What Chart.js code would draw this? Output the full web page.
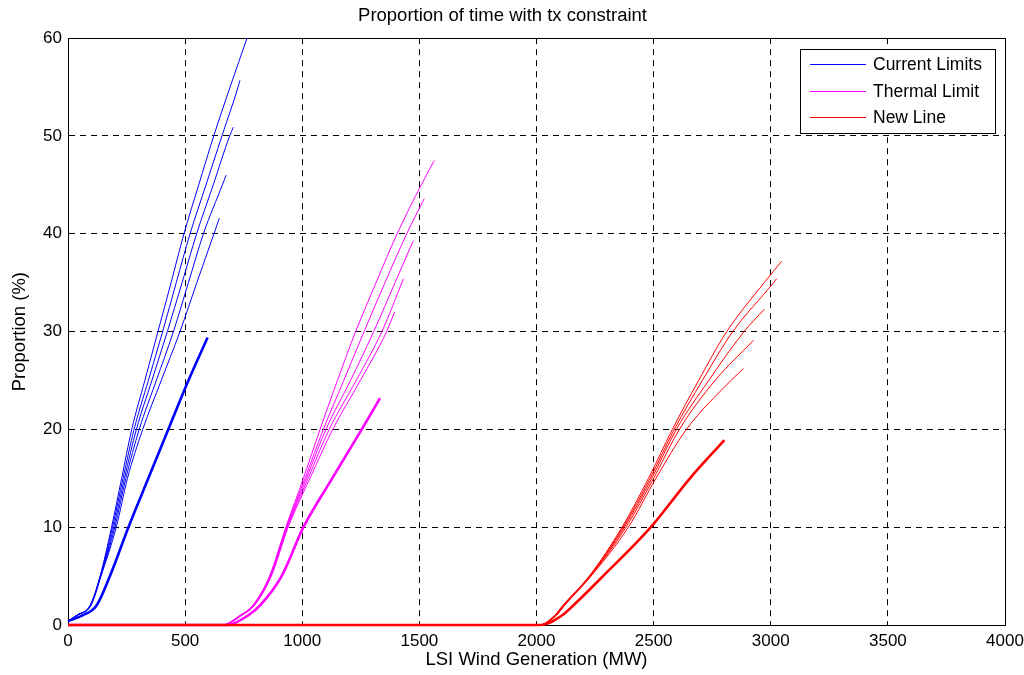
<!DOCTYPE html>
<html>
<head>
<meta charset="utf-8">
<script src="https://cdn.jsdelivr.net/npm/chart.js@4/dist/chart.umd.min.js"></script>
<style>
  html, body { margin: 0; padding: 0; background: #fff; }
  #wrap { width: 1024px; height: 675px; }
</style>
</head>
<body>
<div id="wrap"><canvas id="tx-chart"></canvas></div>
<script>
// proportion levels (%) each curve passes through, last point of a curve is its end value
const currentLevels = [0.4, 1, 2, 5, 10, 15, 20, 25, 30, 35, 40, 45, 50, 55];
const thermalLevels = [0, 0, 1, 2, 5, 10, 15, 20, 25, 30, 35, 40, 45];
const newLineLevels = [0, 0, 1, 2, 5, 10, 15, 20, 25, 30, 35];

// LSI wind generation (MW) at those levels
const current1 = [0, 37, 94, 137, 186, 229, 272, 328, 384, 440, 495, 558, 622, 692, 764];
const current2 = [0, 38, 95, 138, 190, 235, 282, 343, 404, 462, 521, 589, 657, 726, 734];
const current3 = [0, 39, 96, 139, 195, 241, 292, 358, 424, 487, 549, 620, 690, 706];
const current4 = [0, 40, 97, 140, 200, 247, 304, 377, 450, 514, 578, 659, 675];
const current5 = [0, 41, 98, 141, 206, 254, 319, 398, 478, 550, 623, 646];
const currentBase = [0, 64, 122, 179, 258, 343, 428, 514, 596];
const currentEnd = [60, 55.7, 50.9, 46.0, 41.6, 29.4];

const thermal1 = [0, 655, 735, 788, 860, 930, 1005, 1076, 1150, 1228, 1315, 1405, 1508, 1564];
const thermal2 = [0, 657, 737, 790, 862, 932, 1012, 1090, 1177, 1264, 1353, 1446, 1521];
const thermal3 = [0, 659, 739, 792, 864, 934, 1018, 1101, 1206, 1305, 1396, 1474];
const thermal4 = [0, 661, 741, 794, 866, 937, 1025, 1115, 1230, 1340, 1432];
const thermal5 = [0, 663, 743, 796, 868, 940, 1033, 1130, 1248, 1360, 1394];
const thermalBase = [0, 680, 770, 820, 912, 1005, 1128, 1254, 1332];
const thermalEnd = [47.5, 43.6, 39.3, 35.4, 32.0, 23.2];

const newLine1 = [0, 2010, 2078, 2112, 2225, 2365, 2478, 2580, 2692, 2812, 2972, 3047];
const newLine2 = [0, 2012, 2080, 2114, 2227, 2370, 2485, 2588, 2708, 2838, 3012, 3025];
const newLine3 = [0, 2014, 2082, 2116, 2229, 2375, 2492, 2597, 2735, 2886, 2973];
const newLine4 = [0, 2016, 2084, 2118, 2231, 2382, 2500, 2610, 2762, 2926];
const newLine5 = [0, 2018, 2086, 2120, 2233, 2392, 2510, 2640, 2830, 2883];
const newLineBase = [0, 2020, 2110, 2157, 2284, 2488, 2655, 2802];
const newLineEnd = [37.2, 35.4, 32.3, 29.1, 26.2, 18.9];

const xTicks = [0, 500, 1000, 1500, 2000, 2500, 3000, 3500, 4000];
const yTicks = [0, 10, 20, 30, 40, 50, 60];
const legendNames = ["Current Limits", "Thermal Limit", "New Line"];
const legendColors = ["#0000ff", "#ff00ff", "#ff0000"];

const FONT = "'Liberation Sans', Arial, sans-serif";

const toPoints = (mw, levels, endPct) =>
	mw.map((x, i) => ({ x: x, y: i < mw.length - 1 ? levels[i] : endPct }));

const makeGroup = (curves, levels, ends, color, order) =>
	curves.map((mw, i) => ({
		data: toPoints(mw, levels, ends[i]),
		borderColor: color,
		borderWidth: i === curves.length - 1 ? 2.6 : 1,
		pointRadius: 0,
		cubicInterpolationMode: "monotone",
		clip: false,
		order: order,
	}));

const datasets = [
	...makeGroup([current1, current2, current3, current4, current5, currentBase], currentLevels, currentEnd, legendColors[0], 3),
	...makeGroup([thermal1, thermal2, thermal3, thermal4, thermal5, thermalBase], thermalLevels, thermalEnd, legendColors[1], 2),
	...makeGroup([newLine1, newLine2, newLine3, newLine4, newLine5, newLineBase], newLineLevels, newLineEnd, legendColors[2], 1),
];

// solid box round the axes, like matlab's "box on"
const boxPlugin = {
	id: "box",
	beforeDatasetsDraw(chart) {
		const { ctx, chartArea: a } = chart;
		ctx.save();
		ctx.strokeStyle = "#000";
		ctx.lineWidth = 1;
		ctx.strokeRect(Math.floor(a.left) + 0.5, Math.floor(a.top) + 0.5,
			Math.floor(a.right) - Math.floor(a.left), Math.floor(a.bottom) - Math.floor(a.top));
		ctx.restore();
	},
};

const legendPlugin = {
	id: "boxLegend",
	afterDraw(chart) {
		const { ctx } = chart;
		const left = 800, top = 49, w = 195, h = 84;
		ctx.save();
		ctx.fillStyle = "#fff";
		ctx.fillRect(left, top, w, h);
		ctx.strokeStyle = "#000";
		ctx.lineWidth = 1;
		ctx.strokeRect(left + 0.5, top + 0.5, w, h);
		ctx.font = "17.5px " + FONT;
		ctx.textBaseline = "middle";
		legendNames.forEach((name, i) => {
			const y = Math.round(top + 15 + i * 26.5);
			ctx.fillStyle = legendColors[i];
			ctx.fillRect(left + 10, y, 56, 1);
			ctx.fillStyle = "#000";
			ctx.fillText(name, left + 73, y + 1.5);
		});
		ctx.restore();
	},
};

new Chart(document.getElementById("tx-chart"), {
	type: "line",
	data: { datasets: datasets },
	plugins: [boxPlugin, legendPlugin],
	options: {
		responsive: true,
		maintainAspectRatio: false,
		animation: false,
		layout: { padding: { top: 0, right: 19, bottom: 0, left: 0 } },
		scales: {
			x: {
				type: "linear",
				min: 0,
				max: 4000,
				afterBuildTicks: (scale) => {
					scale.ticks = xTicks.map((v) => ({ value: v }));
				},
				afterFit: (scale) => {
					scale.height = 50;
					scale.paddingLeft = 0;
					scale.paddingRight = 0;
				},
				ticks: {
					color: "#000",
					padding: 6,
					font: { family: FONT, size: 17 },
					callback: (v) => String(v),
				},
				grid: { color: "#000", drawTicks: false },
				border: { color: "#000", dash: [6, 5] },
				title: {
					display: true,
					text: "LSI Wind Generation (MW)",
					color: "#000",
					font: { family: FONT, size: 18.5 },
					padding: { top: 0, bottom: 4 },
				},
			},
			y: {
				min: 0,
				max: 60,
				afterBuildTicks: (scale) => {
					scale.ticks = yTicks.map((v) => ({ value: v }));
				},
				afterFit: (scale) => {
					scale.width = 68;
				},
				ticks: {
					color: "#000",
					padding: 6,
					font: { family: FONT, size: 17 },
					callback: (v) => String(v),
				},
				grid: { color: "#000", drawTicks: false },
				border: { color: "#000", dash: [6, 5] },
				title: {
					display: true,
					text: "Proportion (%)",
					color: "#000",
					font: { family: FONT, size: 18.5 },
					padding: { top: 9, bottom: 0 },
				},
			},
		},
		plugins: {
			legend: { display: false },
			tooltip: { enabled: false },
			title: {
				display: true,
				text: "Proportion of time with tx constraint",
				color: "#000",
				font: { family: FONT, size: 18.5, weight: "normal" },
				padding: { top: 5, bottom: 11 },
			},
		},
	},
});
</script>
</body>
</html>
